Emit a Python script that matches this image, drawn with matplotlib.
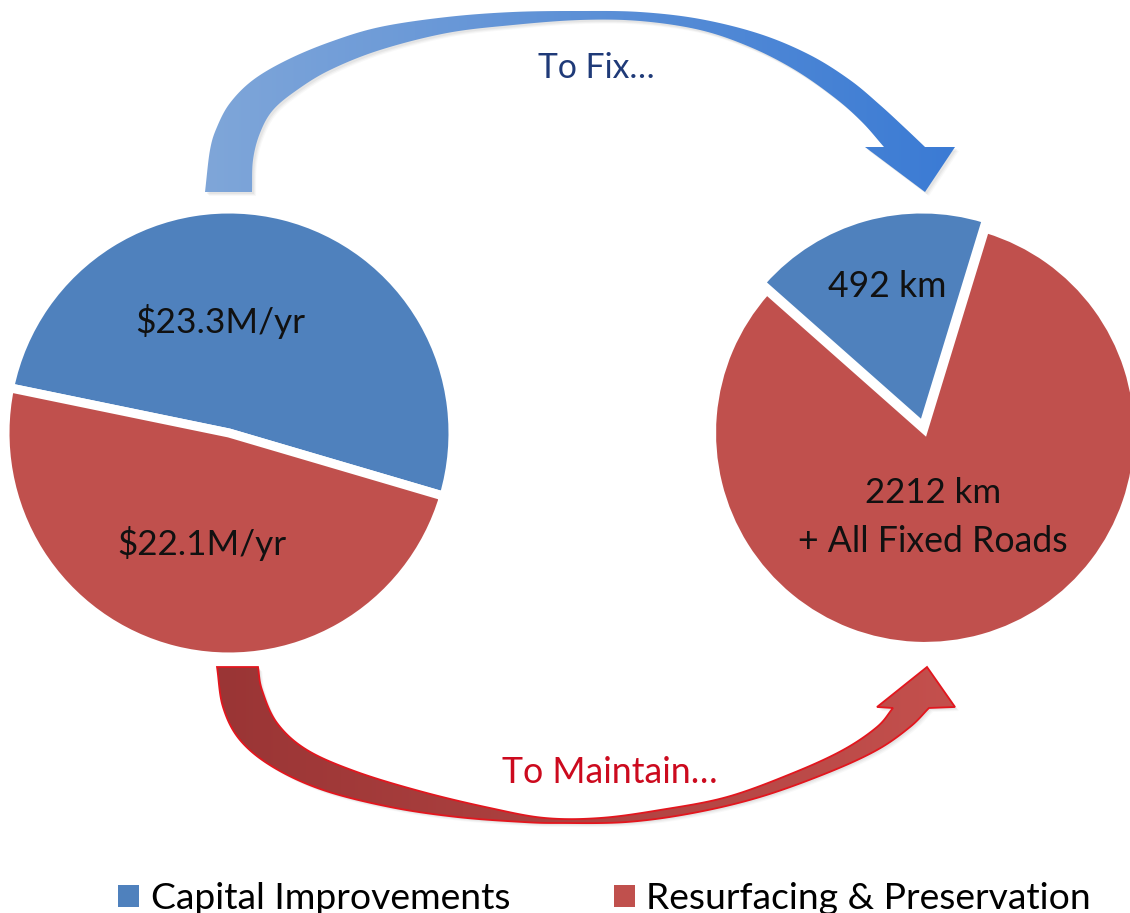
import numpy as np
import matplotlib
matplotlib.use('Agg')
import matplotlib.pyplot as plt
from matplotlib.patches import Polygon, Patch
from matplotlib.colors import LinearSegmentedColormap

# ---------------- data ----------------
categories = ['Capital Improvements', 'Resurfacing & Preservation']
funding_musd = [23.3, 22.1]          # $M per year
length_km = [492, 2212]              # km of road
length_suffix = ['', '+ All Fixed Roads']
colors = ['#4F81BD', '#C0504D']
arrow_labels = ['To Fix…', 'To Maintain…']

W, H = 1130, 913
plt.rcParams['font.family'] = ['Lato', 'DejaVu Sans']

fig = plt.figure(figsize=(W / 100, H / 100), dpi=100)
fig.patch.set_facecolor('white')
ax = fig.add_axes([0, 0, 1, 1])
ax.set_facecolor('white')
renderer = fig.canvas.get_renderer()


def fit_text(x, y_img, s, target_w, color='black', size=24, ha='center', zorder=6):
    t = ax.text(x, H - y_img, s, ha=ha, va='baseline', color=color, fontsize=size, zorder=zorder)
    w = t.get_window_extent(renderer).width
    t.set_fontsize(size * target_w / w)
    return t


def smooth(pts, n=14):
    pts = np.asarray(pts, float)
    ext = np.vstack([2 * pts[0] - pts[1], pts, 2 * pts[-1] - pts[-2]])
    out = []
    for i in range(1, len(ext) - 2):
        p0, p1, p2, p3 = ext[i - 1], ext[i], ext[i + 1], ext[i + 2]
        for t in np.linspace(0, 1, n, endpoint=False):
            out.append(0.5 * ((2 * p1) + (-p0 + p2) * t + (2 * p0 - 5 * p1 + 4 * p2 - p3) * t * t
                              + (-p0 + 3 * p1 - 3 * p2 + p3) * t ** 3))
    out.append(pts[-1])
    return np.array(out)


def gradient_arrow(outer, head, inner, c0, c1, outline=None):
    o = smooth(outer)
    i = smooth(inner)[::-1]
    poly = np.vstack([o, np.asarray(head, float), i])
    poly[:, 1] = H - poly[:, 1]
    # soft shadow
    for k, a in [(4, 0.05), (3, 0.07), (2, 0.09)]:
        sh = Polygon(poly + np.array([k, -k]), closed=True, facecolor='#808080',
                     edgecolor='none', alpha=a, zorder=1)
        ax.add_patch(sh)
    patch = Polygon(poly, closed=True, facecolor='none',
                    edgecolor=outline if outline else 'none', lw=1.3, zorder=3)
    ax.add_patch(patch)
    cmap = LinearSegmentedColormap.from_list('g', [c0, c1])
    xmin, xmax = poly[:, 0].min(), poly[:, 0].max()
    ymin, ymax = poly[:, 1].min(), poly[:, 1].max()
    grad = np.linspace(0, 1, 256).reshape(1, -1)
    im = ax.imshow(grad, cmap=cmap, extent=[xmin, xmax, ymin, ymax], aspect='auto',
                   origin='lower', zorder=2, interpolation='bilinear')
    im.set_clip_path(patch)


# ---------------- arrows (decoration) ----------------
top_outer = [(205, 192), (210, 150), (217, 127), (230, 103), (253, 80), (287, 60), (330, 42),
             (380, 27), (447, 17), (513, 12), (580, 11), (640, 12), (700, 19), (760, 34),
             (810, 55), (850, 80), (880, 105), (905, 128), (925, 147)]
top_head = [(955, 147), (925, 192), (865, 147)]
top_inner = [(252, 192), (253, 160), (260, 133), (273, 110), (297, 90), (330, 70), (380, 50),
             (447, 33), (513, 25), (580, 20), (640, 21), (700, 30), (750, 47), (795, 70),
             (835, 98), (862, 122), (884, 147)]
gradient_arrow(top_outer, top_head, top_inner, '#7FA6D9', '#3B7BD4')

bot_outer = [(217, 667), (223, 707), (240, 740), (273, 767), (323, 790), (390, 807), (457, 817),
             (523, 822), (560, 823), (627, 822), (693, 813), (760, 797), (827, 773), (877, 750),
             (910, 727), (929, 708)]
bot_head = [(955, 707), (927, 667), (877, 707)]
bot_inner = [(258, 667), (262, 690), (277, 723), (307, 750), (357, 772), (423, 792), (490, 808),
             (545, 818), (600, 818), (660, 810), (727, 797), (793, 773), (843, 750), (877, 727),
             (893, 708)]
gradient_arrow(bot_outer, bot_head, bot_inner, '#9A3535', '#C4504D', outline='#E3161E')

fit_text(596, 78, arrow_labels[0], 117, color='#1F3A78')
fit_text(610, 783, arrow_labels[1], 216, color='#CC0A1E')

# ---------------- pies ----------------
ax.pie(funding_musd, colors=colors, startangle=-16.4, counterclock=True,
       center=(229, H - 433), radius=224,
       wedgeprops=dict(edgecolor='white', linewidth=6.5), frame=True)
# explode is in data units (pixels here)
ax.pie(length_km, colors=colors, startangle=73, counterclock=True,
       center=(925, H - 433), radius=211, explode=[11, 0],
       wedgeprops=dict(edgecolor='white', linewidth=3), frame=True)

fund_pos = [(220, 333), (202, 555)]
for v, (x, y) in zip(funding_musd, fund_pos):
    fit_text(x, y, '\\$' + f'{v}M/yr', 170, color='#111111')

fit_text(887, 297, f'{length_km[0]} km', 119, color='#111111')
fit_text(933, 503, f'{length_km[1]} km', 137, color='#111111')
fit_text(933, 552, length_suffix[1], 270, color='#111111')

# ---------------- legend ----------------
probe = ax.text(0, 0, categories[0], fontsize=24)
pw = probe.get_window_extent(renderer).width
probe.remove()
lfs = 24 * 360 / pw
fpx = lfs * 100 / 72
handles = [Patch(facecolor=c, edgecolor='none') for c in colors]
leg = ax.legend(handles, categories, ncol=2, loc='lower left',
                bbox_to_anchor=(118 / W, -2 / H), frameon=False, fontsize=lfs,
                handlelength=21 / fpx, handleheight=20 / fpx, handletextpad=12 / fpx,
                columnspacing=103 / fpx, borderpad=0, borderaxespad=0)

ax.set_xlim(0, W)
ax.set_ylim(0, H)
ax.axis('off')
fig.savefig('out.png', dpi=100, facecolor='white')
